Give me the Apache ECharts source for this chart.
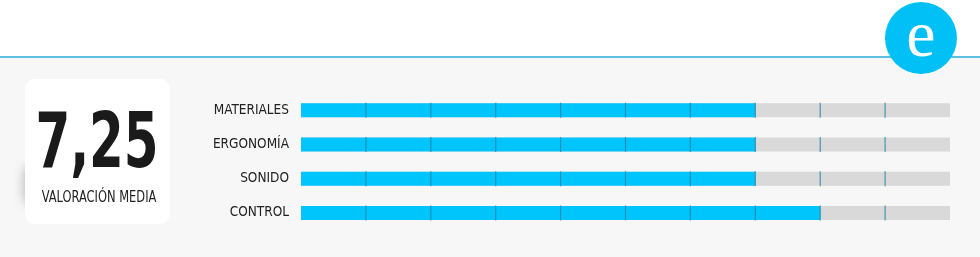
<!DOCTYPE html>
<html><head><meta charset="utf-8">
<script src="https://cdn.jsdelivr.net/npm/echarts@6/dist/echarts.min.js"></script>
<style>html,body{margin:0;padding:0;background:#fff}#c{width:980px;height:257px}</style>
</head><body><div id="c"></div>
<script>
const categories = ['MATERIALES', 'ERGONOMÍA', 'SONIDO', 'CONTROL'];
const scores = [7, 7, 7, 8];
const maxScore = 10;
const tickValues = [1, 2, 3, 4, 5, 6, 7, 8, 9];
const averageLabel = '7,25';
const averageCaption = 'VALORACIÓN MEDIA';
const logoLetter = 'e';

const tickData = [];
categories.forEach(c => tickValues.forEach(v => tickData.push([v, c])));

const chart = echarts.init(document.getElementById('c'));
chart.setOption({
  animation: false,
  grid: { left: 301, right: 30, top: 93, bottom: 27 },
  xAxis: { type: 'value', min: 0, max: maxScore, interval: 1, show: false },
  yAxis: {
    type: 'category', data: categories, inverse: true,
    axisLine: { show: false }, axisTick: { show: false },
    axisLabel: { margin: 12, color: '#222', fontFamily: 'DejaVu Sans Condensed', fontSize: 13.5 }
  },
  graphic: [
    { type: 'rect', z: -10, shape: { x: 0, y: 58, width: 980, height: 199 }, style: { fill: '#f7f7f7' } },
    { type: 'rect', z: 1, shape: { x: 0, y: 56, width: 980, height: 2 }, style: { fill: '#5cc0e0' } },
    { type: 'circle', z: 5, shape: { cx: 921, cy: 38, r: 36 }, style: { fill: '#00c0f6' } },
    { type: 'text', z: 6, x: 921, y: 39, style: { text: logoLetter, fill: '#fff', font: '66px "Liberation Serif"', align: 'center', verticalAlign: 'middle' } },
    { type: 'rect', z: -8, shape: { x: 30, y: 166, width: 20, height: 38, r: 8 },
      style: { fill: '#e5e5e5', shadowBlur: 12, shadowColor: 'rgba(0,0,0,0.25)', shadowOffsetX: -6 } },
    { type: 'rect', z: -7, shape: { x: 25, y: 79, width: 145, height: 145, r: 10 }, style: { fill: '#fff' } },
    { type: 'text', z: 2, x: 97, y: 147, scaleX: 0.73,
      style: { text: averageLabel, fill: '#1a1a1a', font: 'bold 76px "DejaVu Sans Condensed"', align: 'center', verticalAlign: 'middle' } },
    { type: 'text', z: 2, x: 99, y: 198, scaleX: 0.85,
      style: { text: averageCaption, fill: '#222', font: '15px "DejaVu Sans Condensed"', align: 'center', verticalAlign: 'middle' } }
  ],
  series: [
    {
      type: 'bar', data: scores, barWidth: 14,
      itemStyle: { color: '#00c4fc' },
      showBackground: true, backgroundStyle: { color: '#d9d9d9' }
    },
    {
      type: 'scatter', data: tickData, symbol: 'rect', symbolSize: [1.2, 15],
      itemStyle: { color: '#1e84a6' }, z: 3, silent: true
    }
  ]
});
</script></body></html>
